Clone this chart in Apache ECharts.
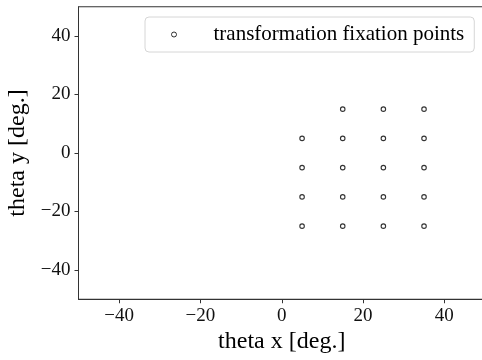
<!DOCTYPE html>
<html>
<head>
<meta charset="utf-8">
<script src="https://cdn.jsdelivr.net/npm/echarts@6/dist/echarts.min.js"></script>
<style>
  html, body { margin: 0; padding: 0; background: #fff; }
  #chart { width: 482px; height: 360px; }
</style>
</head>
<body>
<div id="chart"></div>
<script>
// Fixation point grid (degrees)
const thetaX = [5, 5, 5, 5, 15, 15, 15, 15, 15, 25, 25, 25, 25, 25, 35, 35, 35, 35, 35];
const thetaY = [5, -5, -15, -25, 15, 5, -5, -15, -25, 15, 5, -5, -15, -25, 15, 5, -5, -15, -25];
const tickValues = [-40, -20, 0, 20, 40];
const seriesName = 'transformation fixation points';

const points = thetaX.map((x, i) => [x, thetaY[i]]);
const serif = '"Liberation Serif", "DejaVu Serif", serif';
const fmt = v => String(v).replace('-', '\u2212');

function axis(name, gap, margin) {
  return {
    type: 'value',
    min: -50,
    max: 50,
    name: name,
    nameLocation: 'middle',
    nameGap: gap,
    nameTextStyle: { fontFamily: serif, fontSize: 24, color: '#000' },
    axisLine: { show: true, onZero: false, lineStyle: { color: '#333', width: 1 } },
    axisTick: { show: true, inside: false, length: 4, lineStyle: { color: '#333', width: 1 }, customValues: tickValues },
    axisLabel: { fontFamily: serif, fontSize: 19, color: '#111', formatter: fmt, customValues: tickValues, margin: margin },
    splitLine: { show: false }
  };
}

const chart = echarts.init(document.getElementById('chart'), null, { renderer: 'canvas' });
chart.setOption({
  animation: false,
  backgroundColor: '#fff',
  grid: {
    left: 78.5, top: 6.75, width: 406.5, height: 292.5,
    containLabel: false,
    outerBoundsMode: 'none',
    show: true, borderColor: '#333', borderWidth: 1, backgroundColor: 'transparent'
  },
  xAxis: axis('theta x [deg.]', 29, 7),
  yAxis: axis('theta y [deg.]', 47, 8),
  legend: {
    left: 145,
    top: 17,
    padding: [7, 10, 7, 26],
    borderColor: '#d6d6d6',
    borderWidth: 1,
    borderRadius: 4,
    backgroundColor: '#fff',
    icon: 'circle',
    itemWidth: 5,
    itemHeight: 5,
    itemStyle: { color: '#fff', borderColor: '#000', borderWidth: 1 },
    textStyle: { fontFamily: serif, fontSize: 21, color: '#000', padding: [0, 0, 0, 32] },
    data: [seriesName]
  },
  series: [{
    name: seriesName,
    type: 'scatter',
    data: points,
    symbol: 'circle',
    symbolSize: 4.5,
    itemStyle: { color: '#fff', borderColor: '#000', borderWidth: 1.1 },
    emphasis: { disabled: true }
  }]
});
</script>
</body>
</html>
